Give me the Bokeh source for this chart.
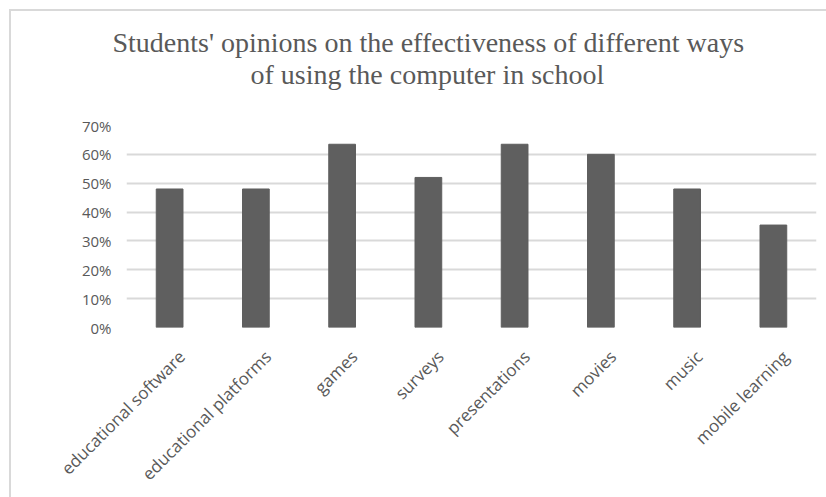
from math import pi

from bokeh.embed import file_html
from bokeh.models import (
    ColumnDataSource,
    FixedTicker,
    InlineStyleSheet,
    LinearAxis,
    NumeralTickFormatter,
    Range1d,
    Title,
)
from bokeh.plotting import figure
from bokeh.resources import INLINE

# Survey results: share of students rating each use of the computer as effective
categories = [
    "educational software",
    "educational platforms",
    "games",
    "surveys",
    "presentations",
    "movies",
    "music",
    "mobile learning",
]
shares = [0.48, 0.48, 0.635, 0.52, 0.635, 0.60, 0.48, 0.355]
y_ticks = [0.0, 0.1, 0.2, 0.3, 0.4, 0.5, 0.6, 0.7]
title_lines = [
    "Students' opinions on the effectiveness of different ways",
    "of using the computer in school",
]

GREY_TEXT = "#595959"
GRID = "#d9d9d9"
BAR = "#5f5f5f"

# One unit-wide slot per category, bar centred in its slot
slot_centres = [i + 0.5 for i in range(len(categories))]
source = ColumnDataSource(data=dict(x=slot_centres, cat=categories, share=shares))

p = figure(
    width=826,
    height=497,
    x_range=Range1d(0, len(categories)),
    y_range=Range1d(0, 0.7),
    output_backend="svg",
    toolbar_location=None,
    min_border_left=126,
    min_border_right=10,
    min_border_top=125,
    min_border_bottom=170,
)

p.vbar(x="x", top="share", width=0.31, source=source, color=BAR)

# Two-line serif title; the lower line is added first so it sits nearest the plot.
# The upper line uses a negative standoff to pull it back down to normal line spacing.
p.title.visible = False
title_style = dict(
    text_font="Liberation Serif",
    text_font_size="28px",
    text_font_style="normal",
    text_color=GREY_TEXT,
    align="left",
)
try:
    lower = Title(text=title_lines[1], offset=124, standoff=71, **title_style)
    upper = Title(text=title_lines[0], offset=-14, standoff=-73, **title_style)
except ValueError:
    lower = Title(text=title_lines[1], offset=124, standoff=40, **title_style)
    upper = Title(text=title_lines[0], offset=-14, standoff=0, **title_style)
p.add_layout(lower, "above")
p.add_layout(upper, "above")

# Y axis: percentages, no axis line or ticks
p.yaxis.ticker = y_ticks
p.yaxis.formatter = NumeralTickFormatter(format="0%")
p.yaxis.axis_line_color = None
p.yaxis.major_tick_line_color = None
p.yaxis.minor_tick_line_color = None
p.yaxis.major_label_standoff = 9
p.yaxis.major_label_text_font = "Open Sans"
p.yaxis.major_label_text_font_size = "15px"
p.yaxis.major_label_text_color = GREY_TEXT

# Category labels: an axis over the same slots, nudged so each
# slanted label ends just right of its bar
p.xaxis.visible = False
label_shift = 0.14
p.extra_x_ranges = {"labels": Range1d(-label_shift, len(categories) - label_shift)}
label_axis = LinearAxis(
    x_range_name="labels",
    ticker=FixedTicker(ticks=slot_centres),
    major_label_overrides={c: name for c, name in zip(slot_centres, categories)},
    axis_line_color=None,
    major_tick_line_color=None,
    minor_tick_line_color=None,
    major_label_orientation=pi / 4,
    major_label_standoff=20,
    major_label_text_font="Open Sans",
    major_label_text_font_size="17px",
    major_label_text_color=GREY_TEXT,
)
p.add_layout(label_axis, "below")

p.xgrid.grid_line_color = None
p.ygrid.grid_line_color = GRID
p.ygrid.grid_line_width = 2

p.outline_line_color = None

# Chart area border: only its top and left edges fall inside the canvas
p.stylesheets = [
    InlineStyleSheet(
        css=":host { overflow: hidden; }"
        " :host::after { content: ''; position: absolute; left: 9px; top: 9px;"
        " right: 0; bottom: 0; border-top: 2px solid #d9d9d9;"
        " border-left: 2px solid #d9d9d9; pointer-events: none; }"
    )
]

open("out.html", "w").write(file_html(p, INLINE))
